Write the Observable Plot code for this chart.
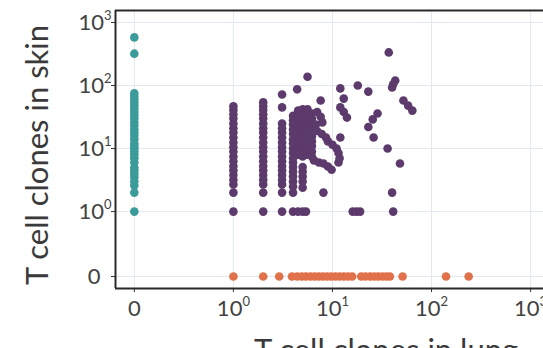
<!DOCTYPE html>
<html>
<head>
<meta charset="utf-8">
<script src="https://cdn.jsdelivr.net/npm/d3@7"></script>
<script src="https://cdn.jsdelivr.net/npm/@observablehq/plot@0.6"></script>
<style>
  html, body { margin: 0; padding: 0; background: #fff; }
  #chart svg { overflow: visible; display: block; }
</style>
</head>
<body>
<div id="chart"></div>
<script>
// ---- data ----
// clones found only in skin (lung = 0)
const tealSkin = [1, 2, 2.6, 3, 3.5, 4, 4.5, 5, 6, 7, 8, 9, 10, 11, 12, 14, 16, 18, 20, 23, 26, 30, 34, 38, 43, 48, 54, 60, 67, 75, 320, 580];
// clones found only in lung (skin = 0)
const orangeLung = [1, 2, 2.9, 3.9, 4.4, 4.9, 5.4, 6, 6.6, 7.3, 8, 8.8, 9.7, 10.7, 11.8, 13, 14.3, 15.8, 19.5, 21.5, 24, 26.5, 29, 32, 35, 38, 51, 140, 237];
// shared clones: vertical columns at lung = 1, 2, 3
const col1Skin = [1, 2, 2.7, 3.2, 3.8, 4.5, 5.3, 6.3, 7.5, 9, 10.5, 12.5, 15, 18, 21, 25, 30, 35, 41, 47];
const col2Skin = [1, 2, 2.7, 3.2, 3.8, 4.5, 5.3, 6.3, 7.5, 9, 10.5, 12.5, 15, 18, 21, 25, 30, 35, 41, 47, 54];
const col3Skin = [1, 2, 2.7, 3.2, 3.8, 4.5, 5.3, 6.3, 7.5, 9, 10.5, 12.5, 15, 18, 21, 25, 45, 72];
// shared clones: other [lung, skin] pairs
const purplePairs = [
  [4,1],[4.5,1],[5,1],[5.4,1],[16,1],[17.5,1],[19,1],[41,1],
  [8.1,2],[40,2],
  [4,2],[4,2.5],[4,3],[4,3.6],[4,4.3],[4,5.1],[4,6],
  [5,2.4],[5,3],[5,3.6],[5,4.3],[5,5.1],
  [4,7],[4,8.5],[4,10],[4,12],[4,14],[4,17],[4,20],[4,24],[4,28],[4,33],
  [4.5,8],[4.5,9.5],[4.5,11],[4.5,13],[4.5,15.5],[4.5,18],[4.5,21],[4.5,25],[4.5,30],[4.5,36],[4.5,40],
  [5,7.5],[5,9],[5,10.5],[5,12.5],[5,15],[5,18],[5,21],[5,25],[5,30],[5,36],[5,42],
  [5.6,8],[5.6,9.5],[5.6,11],[5.6,13],[5.6,15.5],[5.6,18],[5.6,21],[5.6,25],[5.6,30],[5.6,36],[5.6,42],
  [6.2,9],[6.2,11],[6.2,13],[6.2,15.5],[6.2,18],[6.2,21],[6.2,25],[6.2,30],[6.2,36],
  [7,38],[7.6,32],[6.8,24],[7,19],[7.8,17],[8.6,15],[9,13],[10,11.5],[11,10],[11.5,8.5],[11.8,7],[11.5,6],
  [6.5,6.5],[7.3,6],[8.1,5.8],[9,5.2],[9.8,4.6],[6.2,7.5],
  [5.6,138],[4.4,87],[7.6,58],[12,15],[12,90],[13,62],[12,45],[13,38],[14,31],
  [18,100],[23,80],[37,335],[43,120],[41,105],[40,93],[52,58],[58,48],[64,40],
  [28.5,36],[25.5,29],[23,22],[26,15],[36,10],[48,5.8],[7.9,26]
];
// axis ticks
const tickValues = [0, 1, 10, 100, 1000];
const tickLabels = ["0", "10^0", "10^1", "10^2", "10^3"];
const groups = ["skin only", "shared", "lung only"];
const groupColors = ["#3b9b9a", "#5d3a6c", "#e0714a"];

// ---- build rows ----
const rows = [];
tealSkin.forEach(s => rows.push({lung: 0, skin: s, group: groups[0]}));
col1Skin.forEach(s => rows.push({lung: 1, skin: s, group: groups[1]}));
col2Skin.forEach(s => rows.push({lung: 2, skin: s, group: groups[1]}));
col3Skin.forEach(s => rows.push({lung: 3.1, skin: s, group: groups[1]}));
purplePairs.forEach(([l, s]) => rows.push({lung: l, skin: s, group: groups[1]}));
orangeLung.forEach(l => rows.push({lung: l, skin: 0, group: groups[2]}));

// "0" placed one decade below 10^0 on each (log) axis
const tx = v => v === 0 ? -1 : Math.log10(v);
const ty = v => v === 0 ? -1.03 : Math.log10(v);
const xDomain = [-1.19, 3.13];
const yDomain = [-1.22, 3.19];
const xTicks = tickValues.map(tx);
const yTicks = tickValues.map(ty);
const xFmt = v => tickLabels[xTicks.indexOf(v)];
const yFmt = v => tickLabels[yTicks.indexOf(v)];

const plot = Plot.plot({
  width: 543,
  height: 348,
  marginLeft: 115,
  marginRight: 0,
  marginTop: 10,
  marginBottom: 60,
  style: {fontFamily: "Lato, sans-serif", fontSize: "22px", color: "#424242", background: "transparent"},
  x: {type: "linear", domain: xDomain},
  y: {type: "linear", domain: yDomain},
  color: {domain: groups, range: groupColors},
  marks: [
    Plot.gridX(xTicks, {stroke: "#e3e8f0", strokeOpacity: 1, strokeWidth: 1}),
    Plot.gridY(yTicks, {stroke: "#e3e8f0", strokeOpacity: 1, strokeWidth: 1}),
    Plot.axisX(xTicks, {tickFormat: xFmt, tickSize: 4, tickPadding: 8, label: null, stroke: "#333"}),
    Plot.axisY(yTicks, {tickFormat: yFmt, tickSize: 4, tickPadding: 0, label: null, stroke: "#333"}),
    Plot.dot(rows, {x: d => tx(d.lung), y: d => ty(d.skin), fill: "group", r: 4.3}),
    Plot.ruleX([xDomain[0]], {stroke: "#2a2a2a", strokeWidth: 2}),
    Plot.ruleY([yDomain[0], yDomain[1]], {stroke: "#2a2a2a", strokeWidth: 2})
  ]
});

// superscript exponents in tick labels
d3.select(plot).selectAll('g[aria-label$="tick label"] text').each(function() {
  const t = this.textContent;
  const m = /^10\^(\d)$/.exec(t);
  if (m) {
    this.textContent = "10";
    d3.select(this).append("tspan").attr("font-size", "13px").attr("dy", "-0.75em").text(m[1]);
  }
});
d3.select(plot).selectAll('g[aria-label="y-axis tick label"] text').each(function() {
  if (this.textContent === "0") {
    const tr = this.getAttribute("transform") || "";
    this.setAttribute("transform", tr + " translate(-11,0)");
  }
});

// axis titles
const svg = d3.select(plot);
svg.append("text")
  .attr("transform", "translate(48,155) rotate(-90)")
  .attr("text-anchor", "middle")
  .attr("font-family", "Lato, sans-serif")
  .attr("font-size", "31px")
  .attr("fill", "#3a3a3a")
  .text("T cell clones in skin");
svg.append("text")
  .attr("x", 386)
  .attr("y", 361)
  .attr("text-anchor", "middle")
  .attr("font-family", "Lato, sans-serif")
  .attr("font-size", "31px")
  .attr("fill", "#3a3a3a")
  .text("T cell clones in lung");

document.getElementById("chart").append(plot);
</script>
</body>
</html>
